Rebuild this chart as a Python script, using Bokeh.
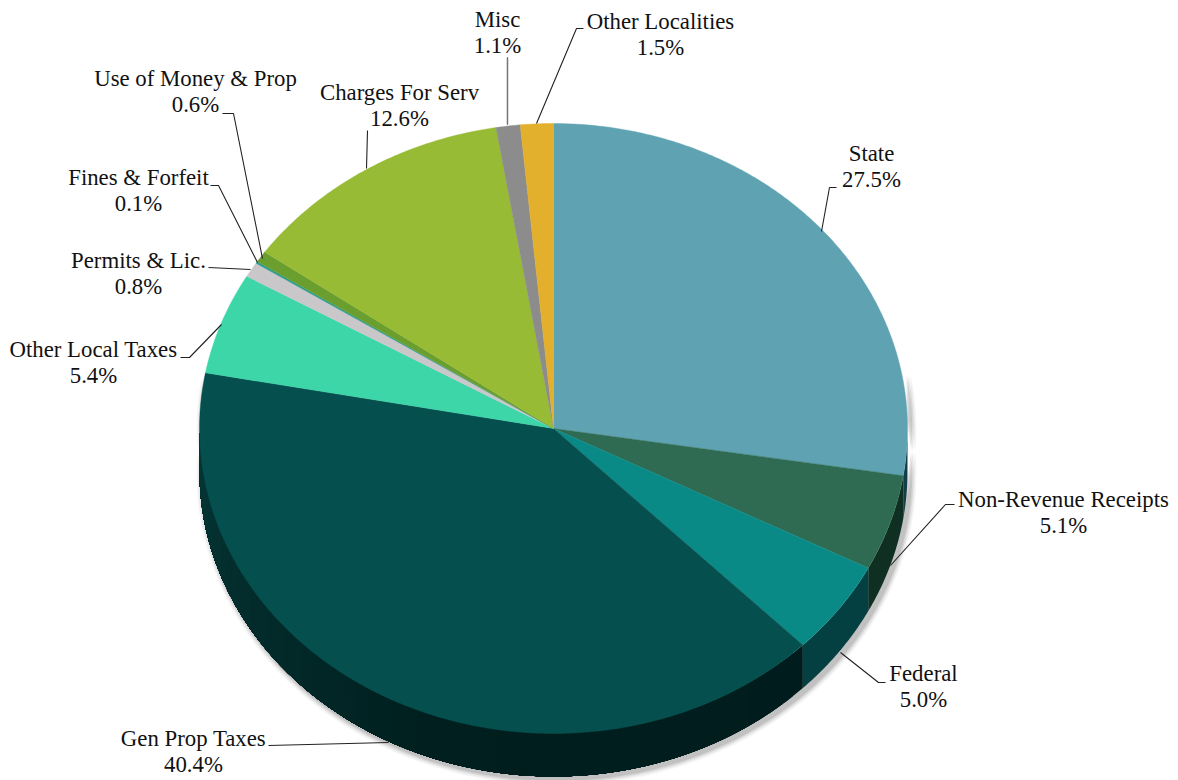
import numpy as np
from bokeh.plotting import figure
from bokeh.models import Range1d
from bokeh.core.properties import value
from bokeh.embed import file_html
from bokeh.resources import INLINE

categories = ["State", "Non-Revenue Receipts", "Federal", "Gen Prop Taxes", "Other Local Taxes",
              "Permits & Lic.", "Fines & Forfeit", "Use of Money & Prop", "Charges For Serv",
              "Misc", "Other Localities"]
percents = [27.5, 5.1, 5.0, 40.4, 5.4, 0.8, 0.1, 0.6, 12.6, 1.1, 1.5]

top_colors = ["#5fa3b3", "#2f6b53", "#0a8a86", "#05504f", "#3cd6a8", "#c9c7c9",
              "#2a9d8f", "#6a9e2f", "#97bb35", "#8c8c8c", "#e3b02d"]
wall_colors = ["#123f4a", "#0f2f22", "#043f42", None, "#053636", "#053636",
               "#053636", "#053636", "#053636", "#053636", "#053636"]

# layout, in page pixels
CX, CY, RX, RY, DEPTH = 553.0, 428.0, 354.0, 305.0, 43.0
label_x = [871, 1063, 923, 193, 93, 138, 138, 195, 399, 497, 660]
label_y = [153, 499, 673, 738, 349, 260, 177, 78, 92, 19, 21]
LINE_GAP = 25.5
leaders_x = [[836, 829, 821], [954, 945, 890], [885, 878, 840], [268, 388], [180, 189, 221],
             [208, 250], [210, 218, 257], [222, 233, 262], [367, 366], [507, 507], [583, 576, 536]]
leaders_y = [[187, 187, 231], [504, 504, 565], [682, 682, 652], [745, 742], [357, 357, 324],
             [267, 269], [185, 185, 262], [113, 113, 258], [130, 168], [57, 124], [28, 28, 123]]

p = figure(width=1178, height=780, toolbar_location=None, output_backend="svg",
           x_range=Range1d(0, 1178), y_range=Range1d(780, 0),
           min_border=0, outline_line_color=None, background_fill_color="white",
           margin=(0, 0, 0, 0))
p.axis.visible = False
p.grid.visible = False


def ex(t):
    return CX + RX * np.sin(t)


def ey(t):
    return CY - RY * np.cos(t)


def mix(c1, c2, f):
    a = [int(c1[k:k + 2], 16) for k in (1, 3, 5)]
    b = [int(c2[k:k + 2], 16) for k in (1, 3, 5)]
    return "#%02x%02x%02x" % tuple(int(round(u + (v - u) * f)) for u, v in zip(a, b))


# soft shadow
low = np.radians(np.linspace(80, 280, 201))
for grow, alpha in [(6, 0.05), (4.5, 0.08), (3, 0.12), (1.5, 0.16)]:
    xs = np.concatenate([ex(low) + 3 + np.sin(low) * grow, (ex(low) + 3 + np.sin(low) * grow)[::-1]])
    ys = np.concatenate([ey(low) + DEPTH + 3 - np.cos(low) * grow, ey(low)[::-1]])
    p.patch(xs, ys, fill_color="#555555", fill_alpha=alpha, line_color=None)

# side wall: later pieces paint over the remainder of earlier ones, so no seams appear
edges = np.radians(np.concatenate([[0], np.cumsum(percents)]) * 3.6)
edges = edges * (2 * np.pi / edges[-1])
for i in range(len(percents)):
    a = max(edges[i], np.pi / 2)
    b = min(edges[i + 1], 3 * np.pi / 2)
    if b <= a:
        continue
    cuts = np.linspace(a, b, 61) if wall_colors[i] is None else np.array([a, b])
    for u, v in zip(cuts[:-1], cuts[1:]):
        t = np.linspace(u, b, max(3, int((b - u) * 120)))
        if wall_colors[i] is None:
            m = 0.5 * (u + v)
            mid = np.radians(200)
            if m < mid:
                col = mix("#011c1d", "#011f1f", (m - a) / (mid - a))
            else:
                col = mix("#011f1f", "#053636", (m - mid) / (b - mid))
        else:
            col = wall_colors[i]
        p.patch(np.concatenate([ex(t), ex(t)[::-1]]),
                np.concatenate([ey(t), ey(t)[::-1] + DEPTH]),
                fill_color=col, line_color=None)

# top
for i in range(len(percents)):
    t = np.linspace(edges[i], edges[i + 1], max(3, int((edges[i + 1] - edges[i]) * 120)))
    p.patch(np.concatenate([[CX], ex(t)]), np.concatenate([[CY], ey(t)]),
            fill_color=top_colors[i], line_color=top_colors[i], line_width=0.4)

# leaders
p.multi_line(leaders_x, leaders_y, line_color="#222222", line_width=1.1)
p.line(leaders_x[9], leaders_y[9], line_color="#777777", line_width=1.4)

# labels
pct_text = [f"{v:.1f}%" for v in percents]
font = value("Liberation Serif")
p.text(label_x, label_y, text=categories, text_font=font, text_font_size="22.8px",
       text_color="#111111", text_align="center", text_baseline="middle")
p.text(label_x, [y + LINE_GAP for y in label_y], text=pct_text, text_font=font, text_font_size="22.8px",
       text_color="#111111", text_align="center", text_baseline="middle")

open("out.html", "w").write(file_html(p, INLINE))
